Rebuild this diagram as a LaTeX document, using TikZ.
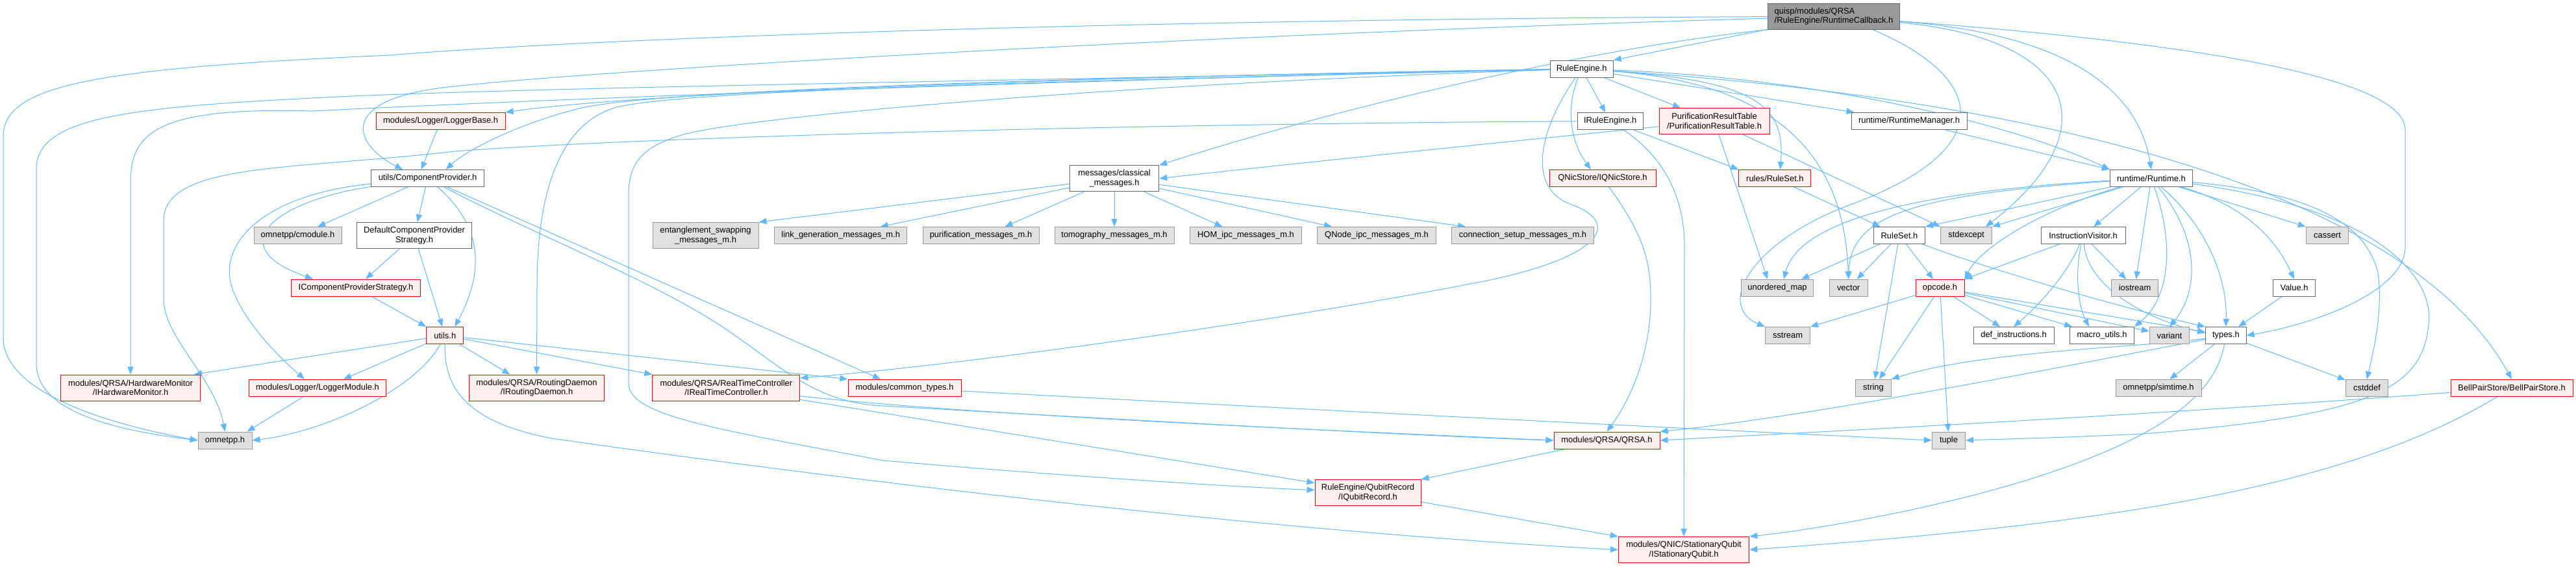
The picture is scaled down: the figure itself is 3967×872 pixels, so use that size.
\documentclass[tikz,border=0pt]{standalone}
\usepackage{fontspec}
\setmainfont{Liberation Sans}
\usetikzlibrary{arrows.meta,calc,backgrounds}
\definecolor{edgec}{HTML}{63B8FF}
\definecolor{bgray}{HTML}{999999}
\definecolor{bdark}{HTML}{666666}
\definecolor{fgray}{HTML}{E0E0E0}
\definecolor{fred}{HTML}{FFF0F0}
\definecolor{bred}{HTML}{FF0000}
\newcommand\gfont{\fontsize{9.7}{10.75}\selectfont}
\newcommand\gnode[7]{\node[#2,minimum width=#5*0.75pt,minimum height=#6*0.75pt] (#1) at (#3,#4) {#7};}
\tikzset{
  nb/.style={draw, line width=0.75pt, inner sep=0pt, align=center, font=\gfont, text=black},
  wn/.style={nb, draw=bdark, fill=white},
  gn/.style={nb, draw=bgray, fill=fgray},
  rn/.style={nb, draw=bred, fill=fred},
  rootn/.style={nb, draw=bdark, fill=bgray, align=left},
  dep/.style={draw=edgec, line width=0.75pt, -{Triangle[length=9pt,width=7pt]}}
}
\begin{document}
\begin{tikzpicture}[x=0.75pt,y=-0.75pt]
\useasboundingbox (0,0) rectangle (3967,872);
% nodes
\gnode{rc}{rootn}{2824}{25.2}{203}{40}{quisp/modules/QRSA\\/RuleEngine/RuntimeCallback.h}
\gnode{re}{wn}{2435.7}{106}{97}{26}{RuleEngine.h}
\gnode{cp}{wn}{658.6}{274.5}{174}{26}{utils/ComponentProvider.h}
\gnode{lb}{rn}{678.6}{186.5}{199}{26}{modules/Logger/LoggerBase.h}
\gnode{cm}{wn}{1716}{274.8}{137.5}{40}{messages/classical\\\_messages.h}
\gnode{ire}{wn}{2479.7}{186.5}{101}{26}{IRuleEngine.h}
\gnode{prt}{rn}{2640}{186.5}{170}{40}{PurificationResultTable\\/PurificationResultTable.h}
\gnode{qns}{rn}{2468}{274.5}{164}{26}{QNicStore/IQNicStore.h}
\gnode{rtm}{wn}{2940}{186.5}{178}{26}{runtime/RuntimeManager.h}
\gnode{rrs}{rn}{2733.4}{274.5}{111}{26}{rules/RuleSet.h}
\gnode{rt}{wn}{3312.9}{274.5}{127}{26}{runtime/Runtime.h}
\gnode{cmod}{gn}{458.5}{362.5}{135}{26}{omnetpp/cmodule.h}
\gnode{dcps}{wn}{638}{362.5}{177.5}{40}{DefaultComponentProvider\\Strategy.h}
\gnode{icps}{rn}{548}{443}{199}{26}{IComponentProviderStrategy.h}
\gnode{ut}{rn}{685.3}{516.5}{57}{26}{utils.h}
\gnode{hm}{rn}{201}{597}{215}{40}{modules/QRSA/HardwareMonitor\\/IHardwareMonitor.h}
\gnode{lm}{rn}{489}{597.3}{211}{26}{modules/Logger/LoggerModule.h}
\gnode{om}{gn}{346.5}{678}{83}{26}{omnetpp.h}
\gnode{rd}{rn}{826.5}{597}{208}{40}{modules/QRSA/RoutingDaemon\\/IRoutingDaemon.h}
\gnode{rtc}{rn}{1118.4}{597}{227}{40}{modules/QRSA/RealTimeController\\/IRealTimeController.h}
\gnode{ct}{rn}{1393}{597.3}{174}{26}{modules/common\_types.h}
\gnode{es}{gn}{1086.5}{362.5}{163}{40}{entanglement\_swapping\\\_messages\_m.h}
\gnode{lg}{gn}{1294.7}{362.5}{204}{26}{link\_generation\_messages\_m.h}
\gnode{pm}{gn}{1510.5}{362.5}{179}{26}{purification\_messages\_m.h}
\gnode{tm}{gn}{1716}{362.5}{184}{26}{tomography\_messages\_m.h}
\gnode{hom}{gn}{1918.5}{362.5}{172}{26}{HOM\_ipc\_messages\_m.h}
\gnode{qni}{gn}{2120}{362.5}{182.5}{26}{QNode\_ipc\_messages\_m.h}
\gnode{cs}{gn}{2345}{362.5}{219}{26}{connection\_setup\_messages\_m.h}
\gnode{rs}{wn}{2925}{362.5}{79}{26}{RuleSet.h}
\gnode{se}{gn}{3028}{362.5}{79}{26}{stdexcept}
\gnode{iv}{wn}{3208}{362.5}{130}{26}{InstructionVisitor.h}
\gnode{um}{gn}{2737}{443.3}{111}{26}{unordered\_map}
\gnode{vec}{gn}{2846.6}{443.3}{59}{26}{vector}
\gnode{op}{rn}{2987.5}{443.3}{75}{26}{opcode.h}
\gnode{ios}{gn}{3287.5}{443.3}{72}{26}{iostream}
\gnode{ss}{gn}{2753}{516.5}{69}{26}{sstream}
\gnode{di}{wn}{3101}{516.5}{124}{26}{def\_instructions.h}
\gnode{mu}{wn}{3237}{516.5}{99}{26}{macro\_utils.h}
\gnode{var}{gn}{3341}{516.5}{61.5}{26}{variant}
\gnode{str}{gn}{2885}{597.3}{54.5}{26}{string}
\gnode{tup}{gn}{3001}{678}{51}{26}{tuple}
\gnode{sim}{gn}{3324}{597.3}{132}{26}{omnetpp/simtime.h}
\gnode{ty}{wn}{3427.8}{516.5}{62.5}{26}{types.h}
\gnode{val}{wn}{3533}{443.3}{65.6}{26}{Value.h}
\gnode{cas}{gn}{3584}{362.5}{65.6}{26}{cassert}
\gnode{csd}{gn}{3645}{597.3}{65}{26}{cstddef}
\gnode{bps}{rn}{3868}{597.3}{188}{26}{BellPairStore/BellPairStore.h}
\gnode{qrsa}{rn}{2474.5}{678}{163}{26}{modules/QRSA/QRSA.h}
\gnode{qr}{rn}{2106.5}{758.5}{163}{40}{RuleEngine/QubitRecord\\/IQubitRecord.h}
\gnode{sq}{rn}{2593}{846.5}{201.5}{40}{modules/QNIC/StationaryQubit\\/IStationaryQubit.h}
\begin{pgfonlayer}{background}
\fill[white] (0,0) rectangle (3967,872);
% root
\draw[dep] (rc) -- (re.north east);
\draw[dep] (rc.south west) .. controls (2400,80) and (2000,185) .. (cm.north east);
\draw[dep] (rc) .. controls (1800,55) and (900,110) .. (700,133) .. controls (520,150) and (540,220) .. ($(cp.north west)+(49,0)$);
\draw[dep] (rc) .. controls (1700,30) and (900,60) .. (600,85) .. controls (150,105) and (5,130) .. (5,210) -- (5,520) .. controls (5,600) and (150,650) .. (om.west);
\draw[dep] (rc) .. controls (3150,50) and (3290,120) .. (rt.north);
\draw[dep] (rc) .. controls (3200,60) and (3250,200) .. ($(se.north east)+(-10,0)$);
\draw[dep] (rc) .. controls (3300,60) and (3704,110) .. (3704,200) -- (3704,380) .. controls (3704,450) and (3560,500) .. (ty.east);
\draw[dep] ($(rc.south)+(60,0)$) .. controls (3060,120) and (3080,230) .. (2850,315) .. controls (2700,370) and (2640,470) .. (ss.north west);
% RuleEngine
\draw[dep] (re) .. controls (1800,115) and (1000,140) .. (lb.north east);
\draw[dep] (re) .. controls (1600,120) and (1000,140) .. (892,167) .. controls (800,190) and (720,230) .. ($(cp.north)+(28,0)$);
\draw[dep] (re) .. controls (1500,125) and (800,135) .. (500,150) .. controls (200,165) and (56,180) .. (56,260) -- (56,560) .. controls (56,640) and (200,665) .. (om.west);
\draw[dep] (re) .. controls (1600,125) and (900,150) .. (480,171) .. controls (250,165) and (201,200) .. (201,280) -- (hm.north);
\draw[dep] (re) .. controls (1600,125) and (1050,140) .. (950,165) .. controls (860,190) and (827,300) .. (827,440) -- (rd.north);
\draw[dep] (re) .. controls (1700,130) and (1150,180) .. (1053,207) .. controls (990,225) and (968,250) .. (968,300) -- (968,590) .. controls (968,640) and (1100,660) .. (1360,709) .. controls (1600,730) and (1900,750) .. ($(qr.west)+(0,-4)$);
\draw[dep] (re) -- (ire);
\draw[dep] (re) -- (prt);
\draw[dep] (re) .. controls (2410,170) and (2420,220) .. ($(qns.north)+(-18,0)$);
\draw[dep] (re) .. controls (2370,200) and (2350,290) .. (2420,315) .. controls (2490,340) and (2480,390) .. (2300,430) .. controls (2000,490) and (1500,560) .. ($(rtc.east)+(0,-15)$);
\draw[dep] (re) -- (rtm);
\draw[dep] (re) .. controls (2700,125) and (2750,160) .. ($(rrs.north)+(8,0)$);
\draw[dep] (re) .. controls (2750,130) and (2840,250) .. (vec.north);
\draw[dep] (re) .. controls (2800,120) and (3100,190) .. (rt.north west);
\draw[dep] (re) .. controls (3100,150) and (3700,280) .. (bps.north);
% IRuleEngine
\draw[dep] (ire) .. controls (1800,190) and (1000,210) .. (700,233) .. controls (450,262) and (252,250) .. (252,340) -- (252,460) .. controls (252,520) and (330,580) .. (om.north);
\draw[dep] (ire) .. controls (2560,240) and (2594,300) .. (2594,380) -- (sq.north);
\draw[dep] (ire) -- (rrs.north west);
% PurificationResultTable
\draw[dep] (prt) .. controls (2200,230) and (1900,262) .. (cm.east);
\draw[dep] (prt) -- ($(um.north)+(-15,0)$);
\draw[dep] (prt) -- (se.north west);
\draw[dep] (qns) .. controls (2530,360) and (2542,400) .. (2542,460) .. controls (2542,560) and (2500,630) .. (qrsa.north);
\draw[dep] (rtm) -- (rt.north west);
\draw[dep] (rrs) -- (rs);
% Runtime
\draw[dep] (rt) -- (rs.north east);
\draw[dep] (rt) -- (se.north east);
\draw[dep] (rt) .. controls (2950,295) and (2770,340) .. ($(um.north)+(10,0)$);
\draw[dep] (rt) .. controls (2950,300) and (2850,330) .. (vec.north);
\draw[dep] (rt) .. controls (3150,320) and (3050,380) .. (op.north east);
\draw[dep] (rt) -- (iv);
\draw[dep] (rt) -- (ios);
\draw[dep] (rt) .. controls (3350,380) and (3340,460) .. (mu.north east);
\draw[dep] (rt) .. controls (3390,370) and (3385,450) .. (var.north);
\draw[dep] (rt) .. controls (3400,350) and (3430,430) .. (ty.north);
\draw[dep] (rt) -- (cas.north west);
\draw[dep] (rt) .. controls (3470,320) and (3510,380) .. (val.north);
\draw[dep] (rt) .. controls (3530,295) and (3640,330) .. (3662,420) .. controls (3670,480) and (3655,540) .. (csd.north);
\draw[dep] (rt) .. controls (3650,320) and (3750,420) .. (3740,500) .. controls (3730,600) and (3650,640) .. (3300,668) .. controls (3150,675) and (3050,677) .. (tup.east);
% RuleSet
\draw[dep] (rs) -- ($(um.north)+(37,0)$);
\draw[dep] (rs) -- (vec);
\draw[dep] (rs) -- (str);
\draw[dep] (rs) -- (op);
\draw[dep] (rs) .. controls (3050,410) and (3250,470) .. (ty.north west);
% InstructionVisitor
\draw[dep] (iv) -- (op.north east);
\draw[dep] (iv) .. controls (3185,420) and (3140,470) .. (di.north);
\draw[dep] (iv) .. controls (3195,420) and (3200,470) .. ($(mu.north)+(-20,0)$);
\draw[dep] (iv) -- (ios);
\draw[dep] (iv) .. controls (3215,440) and (3300,490) .. ($(ty.west)+(0,-4)$);
% opcode
\draw[dep] (op) -- (ss.north east);
\draw[dep] (op) -- (str);
\draw[dep] (op) -- (tup);
\draw[dep] (op) -- (di);
\draw[dep] (op) -- (mu);
\draw[dep] (op) -- (var);
\draw[dep] (op) -- (ty);
% types
\draw[dep] (ty) .. controls (3300,535) and (3050,540) .. (str.north east);
\draw[dep] (ty) .. controls (3200,560) and (2800,640) .. (qrsa.north east);
\draw[dep] (ty) .. controls (3410,620) and (3300,680) .. (3150,730) .. controls (3000,780) and (2800,815) .. (sq.north east);
\draw[dep] (ty) -- (sim);
\draw[dep] (ty) -- (csd);
\draw[dep] (val) -- (ty);
% BellPairStore
\draw[dep] (bps) .. controls (3300,640) and (2800,665) .. (qrsa.east);
\draw[dep] (bps) .. controls (3600,760) and (3200,810) .. (sq.east);
% ComponentProvider
\draw[dep] (cp) -- (cmod);
\draw[dep] (cp) -- (dcps);
\draw[dep] (cp) .. controls (420,310) and (340,380) .. ($(icps.north west)+(34,0)$);
\draw[dep] (cp) .. controls (400,300) and (330,380) .. (360,450) .. controls (380,500) and (430,550) .. ($(lm.north)+(-20,0)$);
\draw[dep] (cp) .. controls (745,350) and (745,420) .. ($(ut.north)+(15,0)$);
\draw[dep] (cp) .. controls (800,350) and (1000,430) .. (1106,499) .. controls (1200,560) and (1250,620) .. (1360,625) .. controls (1800,650) and (2200,672) .. (qrsa.west);
\draw[dep] (cp) -- ($(ct.north)+(-37,0)$);
\draw[dep] (lb) -- ($(cp.north)+(-10,0)$);
\draw[dep] (dcps) -- (icps);
\draw[dep] (dcps) -- (ut);
\draw[dep] (icps) -- (ut.north west);
% utils
\draw[dep] (ut) -- ($(hm.north east)+(-10,0)$);
\draw[dep] (ut) -- ($(lm.north)+(40,0)$);
\draw[dep] (ut) .. controls (640,600) and (500,665) .. (om.east);
\draw[dep] (ut) -- ($(rd.north)+(-41,0)$);
\draw[dep] (ut) -- (rtc.north west);
\draw[dep] (ut) -- (ct.north west);
\draw[dep] (ut) .. controls (684,600) and (720,650) .. (850,675) .. controls (1200,725) and (1900,815) .. (sq.west);
\draw[dep] (lm) -- ($(om.north east)+(-8,0)$);
% RealTimeController etc.
\draw[dep] (rtc) .. controls (1500,640) and (2100,665) .. (qrsa.west);
\draw[dep] (rtc) -- ($(qr.west)+(0,-15)$);
\draw[dep] (ct) .. controls (2000,630) and (2700,665) .. (tup.west);
\draw[dep] (qrsa) -- (qr.north east);
\draw[dep] (qr) -- (sq.north west);
% classical messages
\draw[dep] (cm) -- (es.north east);
\draw[dep] (cm) -- ($(lg.north)+(61,0)$);
\draw[dep] (cm) -- ($(pm.north)+(37,0)$);
\draw[dep] (cm) -- (tm);
\draw[dep] (cm) -- ($(hom.north)+(-36,0)$);
\draw[dep] (cm) -- ($(qni.north)+(-69,0)$);
\draw[dep] (cm) -- ($(cs.north)+(-88,0)$);
\end{pgfonlayer}
\end{tikzpicture}
\end{document}
